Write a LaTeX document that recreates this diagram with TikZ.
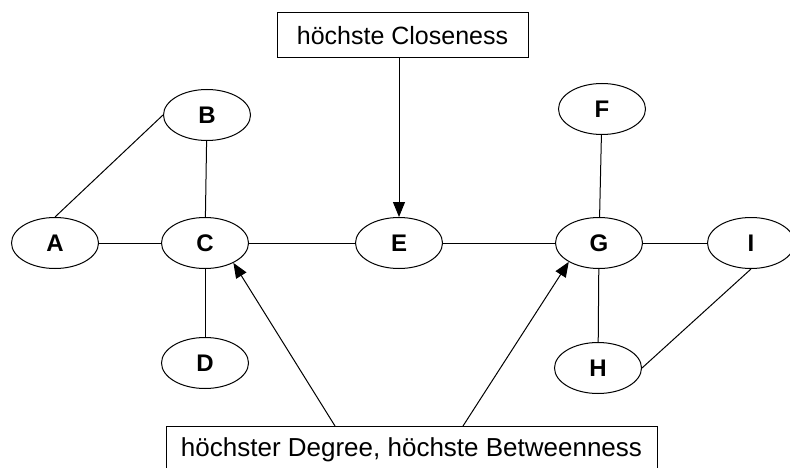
\documentclass[tikz,border=0pt]{standalone}
\usepackage{fontspec}
\setmainfont{Liberation Sans}
\usetikzlibrary{positioning,shapes,arrows.meta}

\begin{document}
\begin{tikzpicture}[x=1pt,y=-1pt,
        knoten/.style={ellipse,draw=black,line width=1pt,
          inner sep=0pt,minimum width=87pt,minimum height=51pt,
          font=\fontsize{24}{27}\selectfont\bfseries},
        kasten/.style={rectangle,draw=black,line width=1pt,
          inner sep=0pt,font=\fontsize{25}{28}\selectfont},
        kante/.style={line width=1pt},
        pfeil/.style={line width=1pt,-{Triangle[length=15pt,width=12pt]}}]
      \useasboundingbox (0,0) rectangle (790,468);
      % Knoten
      \node (A) at ( 55,243) [knoten] {A};
      \node (B) at (207,115) [knoten] {B};
      \node (C) at (205,243) [knoten] {C};
      \node (D) at (205,363) [knoten] {D};
      \node (E) at (399,243) [knoten] {E};
      \node (F) at (602,109) [knoten] {F};
      \node (G) at (599,243) [knoten] {G};
      \node (H) at (598,368) [knoten] {H};
      \node (I) at (751,243) [knoten] {I};
      % Kanten
      \draw[kante] (A.north) -- (B.west);
      \draw[kante] (A) -- (C);
      \draw[kante] (B) -- (C);
      \draw[kante] (C) -- (D);
      \draw[kante] (C) -- (E);
      \draw[kante] (E) -- (G);
      \draw[kante] (F) -- (G);
      \draw[kante] (G) -- (H);
      \draw[kante] (G) -- (I);
      \draw[kante] (H.east) -- (I.south);
      % Beschriftungen
      \node (close) at (402.5,35.5) [kasten,minimum width=251pt,minimum height=45pt]
        {höchste Closeness};
      \node (betw) at (411.5,426) [kasten,anchor=north,minimum width=491pt,minimum height=46pt,
        font=\fontsize{26}{29}\selectfont]
        {höchster Degree, höchste Betweenness};
      \coordinate (b1) at (335,426);
      \coordinate (b2) at (463,426);
      \draw[pfeil] (E.north |- close.south) -- (E.north);
      \draw[pfeil] (b1) -- (C.-35);
      \draw[pfeil] (b2) -- (G.-148);
    \end{tikzpicture}
\end{document}
